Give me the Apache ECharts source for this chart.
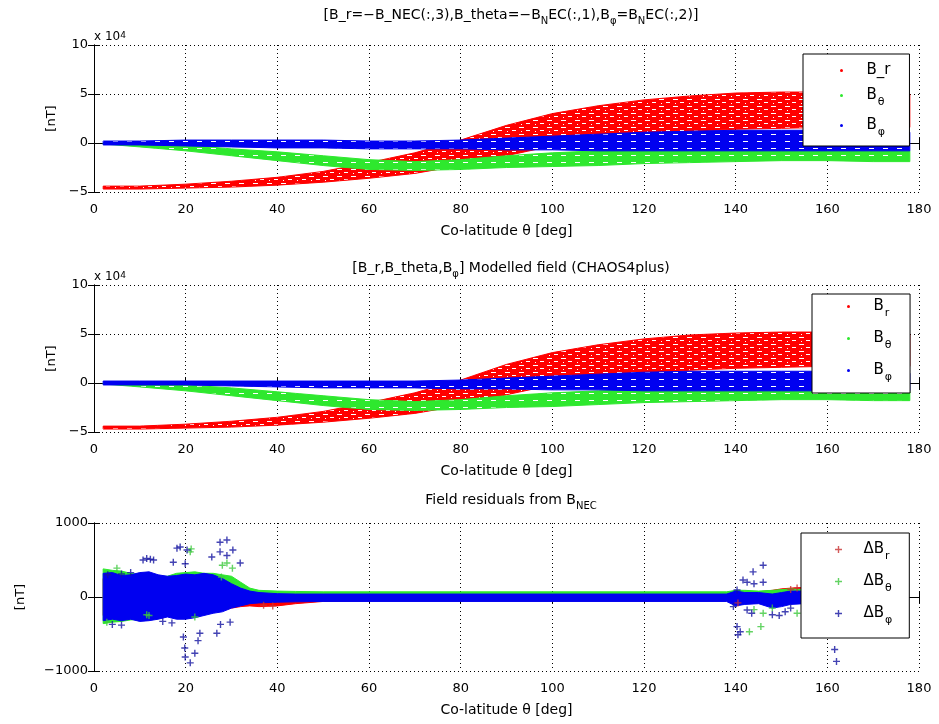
<!DOCTYPE html>
<html>
<head>
<meta charset="utf-8">
<script src="https://cdn.jsdelivr.net/npm/echarts@6/dist/echarts.min.js"></script>
<style>
html, body { margin: 0; padding: 0; background: #fff; }
#main { width: 939px; height: 724px; }
</style>
</head>
<body>
<div id="main"></div>
<script>
// co-latitude samples of the band edges (deg)
var theta = [2, 10, 20, 30, 40, 50, 60, 70, 80, 90, 100, 110, 120, 130, 140, 150, 160, 170, 178];

// panel 1: measured field, lower / upper edge of each band (nT)
var brLo1 = [-47000, -47000, -46000, -45000, -43000, -40000, -36000, -31000, -23000, -13000, -3000, 4000, 9000, 12000, 14000, 15000, 16000, 16000, 16000];
var brHi1 = [-44000, -44000, -42000, -39000, -35000, -29000, -20000, -10000, 3000, 18000, 30000, 38000, 44000, 48000, 51000, 52000, 52000, 51000, 50000];
var btLo1 = [-1000, -4000, -8000, -13000, -18000, -23000, -27000, -28000, -27000, -25000, -24000, -23000, -21000, -20000, -19000, -18000, -18000, -19000, -19000];
var btHi1 = [0, -1000, -2000, -6000, -9000, -13000, -17000, -19000, -17000, -13000, -10000, -8000, -7000, -6000, -6000, -6000, -7000, -8000, -8000];
var bpLo1 = [-2000, -2000, -3000, -4000, -5000, -5000, -6000, -6000, -6000, -7000, -7000, -8000, -8000, -8000, -8000, -8000, -8000, -8000, -8000];
var bpHi1 = [2000, 2000, 3000, 3000, 3000, 3000, 2000, 2000, 3000, 5000, 7000, 9000, 11000, 12000, 13000, 13000, 13000, 12000, 11000];

// panel 2: modelled field (CHAOS4plus)
var brLo2 = [-47000, -47000, -46000, -45000, -43000, -40000, -36000, -31000, -23000, -12000, -2000, 5000, 10000, 13000, 15000, 16000, 17000, 17000, 17000];
var brHi2 = [-44000, -44000, -42000, -39000, -35000, -29000, -20000, -10000, 3000, 19000, 31000, 39000, 45000, 49000, 51000, 52000, 52000, 51000, 50000];
var btLo2 = [-1000, -4000, -8000, -13000, -18000, -23000, -27000, -28000, -27000, -25000, -24000, -22000, -20000, -19000, -18000, -17000, -17000, -18000, -18000];
var btHi2 = [0, -1000, -2000, -5000, -9000, -13000, -17000, -19000, -17000, -13000, -10000, -8000, -7000, -6000, -6000, -6000, -7000, -8000, -8000];
var bpLo2 = [-2000, -2000, -2000, -3000, -4000, -5000, -5000, -5000, -6000, -6000, -7000, -7000, -8000, -8000, -8000, -8000, -8000, -8000, -8000];
var bpHi2 = [2000, 2000, 2000, 2000, 2000, 2000, 2000, 2000, 3000, 5000, 7000, 9000, 11000, 12000, 12000, 12000, 12000, 11000, 10000];

// panel 3: residuals, dense part as bands
var rTheta = [2, 4, 6, 8, 10, 12, 14, 16, 18, 20, 22, 24, 26, 28, 30, 32, 34, 36, 40, 44, 50, 60, 80, 100, 120, 138, 140, 142, 145, 148, 150, 152, 155, 158, 160, 163];
var dbrLo = [-250, -250, -250, -250, -250, -250, -250, -250, -250, -250, -250, -230, -200, -180, -150, -130, -120, -130, -120, -90, -60, -50, -50, -50, -50, -50, -100, -80, -60, -60, -60, -50, -40, -40, -40, -30];
var dbrHi = [250, 250, 250, 250, 250, 250, 250, 250, 250, 250, 250, 230, 200, 180, 150, 120, 60, 0, -10, 0, 20, 20, 20, 20, 20, 20, 60, 60, 70, 90, 110, 120, 130, 110, 100, 80];
var dbtLo = [-360, -340, -330, -310, -300, -290, -280, -260, -250, -250, -250, -230, -200, -150, -100, -60, -30, 0, 10, 15, 20, 20, 20, 20, 20, 20, -40, -50, -60, -70, -80, -70, -60, -50, -50, -40];
var dbtHi = [380, 360, 350, 320, 300, 300, 280, 280, 320, 330, 340, 320, 320, 300, 280, 200, 120, 90, 80, 75, 70, 70, 70, 70, 70, 70, 90, 90, 80, 90, 100, 110, 100, 90, 90, 80];
var dbpLo = [-320, -300, -320, -300, -330, -320, -300, -270, -300, -300, -280, -250, -220, -200, -150, -120, -90, -80, -70, -65, -60, -60, -60, -60, -60, -60, -120, -100, -90, -150, -130, -100, -90, -80, -80, -60];
var dbpHi = [320, 330, 290, 300, 330, 340, 300, 280, 290, 310, 300, 320, 300, 250, 180, 120, 80, 60, 45, 40, 40, 40, 40, 40, 40, 40, 80, 60, 60, 40, 60, 80, 80, 70, 60, 50];

// residual outliers [theta, nT]
var dbrOut = [[153.4, 120], [140.5, -80], [37, -110], [39, -120], [152, 100]];
var dbtOut = [[21, 610], [21.2, 650], [29, 460], [30.2, 390], [27.8, 270], [11.5, -240], [2.8, -340], [5, 390], [22, -270],
  [143, -470], [145.5, -400], [146, -220], [148, -150], [153.4, -220], [144, -170], [12, -250], [28, 430]];
var dbpOut = [[10.7, 500], [11.5, 520], [12.3, 510], [13, 500], [17.3, 470], [18.1, 660], [18.8, 675], [20.3, 635], [19.9, 450],
  [25.7, 540], [27.5, 740], [29, 770], [27.5, 610], [30.3, 635], [31.9, 460], [29, 560], [19.9, -810], [21, -890], [22, -760],
  [19.5, -540], [19.8, -690], [23.1, -490], [22.7, -590], [26.8, -490], [29.7, -340], [27.6, -370], [146, 430], [143.8, 340],
  [141.6, 230], [142.5, 200], [144, 180], [146, 200], [140.3, 95], [140.3, -400], [140.5, -510], [141, -470], [139.5, -130],
  [142.5, -175], [143.5, -220], [148, -240], [149.5, -250], [150.8, -200], [152, -150], [161.6, -710], [162, -870],
  [8, 330], [6, 310], [3, 300], [4, -370], [6, -380], [15, -330], [17, -350]];

var xTicks = [0, 20, 40, 60, 80, 100, 120, 140, 160, 180];

var FONT = 'DejaVu Sans';
var RED = '#ff0000', GREEN = '#2ee82e', BLUE = '#0000f0', NAVY = '#1414a0';
var PLUS = 'path://M4,0H6V4H10V6H6V10H4V6H0V4H4Z';

var grids = [
  { left: 94, right: 20, top: 45, height: 147 },
  { left: 94, right: 20, top: 285, height: 147 },
  { left: 94, right: 20, top: 523, height: 148 }
];

// streaky fill, like many point tracks lying side by side
function streaks(color, dense) {
  var c = document.createElement('canvas');
  c.width = 14; c.height = 7;
  var g = c.getContext('2d');
  g.fillStyle = color;
  g.fillRect(0, 0, 14, 7);
  g.fillStyle = '#fff';
  g.fillRect(1, 1, 5, 1);
  if (dense) {
    g.fillRect(8, 4, 4, 1);
    g.fillRect(3, 5, 1, 1);
  }
  return { image: c, repeat: 'repeat' };
}

function minus(s) { return String(s).replace('-', '\u2212'); }

function xAxesFor(i) {
  var base = {
    gridIndex: i, type: 'value', min: xTicks[0], max: xTicks[xTicks.length - 1], interval: 20,
    axisLine: { show: true, lineStyle: { color: '#000', width: 1 } },
    axisTick: { show: true, inside: true, length: 6, lineStyle: { color: '#000' } }
  };
  return [
    Object.assign({}, base, {
      position: 'bottom',
      axisLabel: { color: '#000', fontSize: 13, fontFamily: FONT, margin: 11 },
      splitLine: { show: true, lineStyle: { color: '#000', width: 1, type: [1, 3] } },
      name: 'Co-latitude θ [deg]', nameLocation: 'middle', nameGap: 32,
      nameTextStyle: { color: '#000', fontSize: 14, fontFamily: FONT }
    }),
    Object.assign({}, base, { position: 'top', axisLabel: { show: false }, splitLine: { show: false } })
  ];
}

function yAxesFor(i, min, max, step, fmt, gap) {
  var base = {
    gridIndex: i, type: 'value', min: min, max: max, interval: step,
    axisLine: { show: true, lineStyle: { color: '#000', width: 1 } },
    axisTick: { show: true, inside: true, length: 6, lineStyle: { color: '#000' } }
  };
  return [
    Object.assign({}, base, {
      position: 'left',
      axisLabel: { color: '#000', fontSize: 13, fontFamily: FONT, margin: 6, formatter: fmt },
      splitLine: { show: true, lineStyle: { color: '#000', width: 1, type: [1, 3] } },
      name: '[nT]', nameLocation: 'middle', nameGap: gap,
      nameTextStyle: { color: '#000', fontSize: 13, fontFamily: FONT }
    }),
    Object.assign({}, base, { position: 'right', axisLabel: { show: false }, splitLine: { show: false } })
  ];
}

// filled band between lo and hi: one polygon through the data, placed by the axes
function band(name, i, xs, lo, hi, color, fill) {
  return {
    name: name, type: 'custom', xAxisIndex: 2 * i, yAxisIndex: 2 * i, clip: true,
    itemStyle: { color: color },
    data: xs.map(function (t, k) { return [t, lo[k], hi[k]]; }),
    encode: { x: 0, y: [1, 2] },
    renderItem: function (params, api) {
      if (params.dataIndexInside !== 0) return null;
      var n = params.dataInsideLength, pts = [], k;
      for (k = 0; k < n; k++) pts.push(api.coord([api.value(0, k), api.value(2, k)]));
      for (k = n - 1; k >= 0; k--) pts.push(api.coord([api.value(0, k), api.value(1, k)]));
      return {
        type: 'polygon', shape: { points: pts },
        style: { fill: fill || color, stroke: color, lineWidth: 1 }
      };
    }
  };
}

function plus(name, pts, color) {
  return {
    name: name, type: 'scatter', xAxisIndex: 4, yAxisIndex: 4, symbol: PLUS, symbolSize: 7,
    itemStyle: { color: color }, data: pts, z: 3
  };
}

var labels = {
  Br1: '{m|B_r}', Bt1: '{m|B}{s|θ}', Bp1: '{m|B}{s|φ}',
  Br2: '{m|B}{s|r}', Bt2: '{m|B}{s|θ}', Bp2: '{m|B}{s|φ}',
  dBr: '{m|ΔB}{s|r}', dBt: '{m|ΔB}{s|θ}', dBp: '{m|ΔB}{s|φ}'
};
var legRich = {
  m: { fontSize: 15, fontFamily: FONT, color: '#000', lineHeight: 15, verticalAlign: 'top' },
  s: { fontSize: 11, fontFamily: FONT, color: '#000', lineHeight: 11, verticalAlign: 'top', padding: [9, 0, 0, 1] }
};
function legendFor(names, left, top, icon, size, gap, pad) {
  return {
    data: names.map(function (n) { return { name: n, icon: icon }; }),
    orient: 'vertical', left: left, top: top, itemWidth: 40, itemHeight: size, itemGap: gap,
    padding: pad, borderColor: '#000', borderWidth: 1, backgroundColor: '#fff',
    selectedMode: false, formatter: function (n) { return labels[n]; },
    textStyle: { rich: legRich }
  };
}

var titleRich = {
  m: { fontSize: 14, fontFamily: FONT, fontWeight: 'normal', color: '#000', lineHeight: 14, verticalAlign: 'top' },
  s: { fontSize: 10, fontFamily: FONT, fontWeight: 'normal', color: '#000', lineHeight: 10, verticalAlign: 'top', padding: [8, 0, 0, 0] }
};
function titleAt(text, top) {
  return { text: text, left: 506, top: top, textAlign: 'center', textStyle: { fontWeight: 'normal', rich: titleRich } };
}

var chart = echarts.init(document.getElementById('main'));

var series = [
  band('Br1', 0, theta, brLo1, brHi1, RED, streaks(RED, true)),
  band('Bt1', 0, theta, btLo1, btHi1, GREEN, streaks(GREEN, false)),
  band('Bp1', 0, theta, bpLo1, bpHi1, BLUE, streaks(BLUE, false)),
  band('Br2', 1, theta, brLo2, brHi2, RED, streaks(RED, true)),
  band('Bt2', 1, theta, btLo2, btHi2, GREEN, streaks(GREEN, false)),
  band('Bp2', 1, theta, bpLo2, bpHi2, BLUE, streaks(BLUE, false)),
  band('dBrBand', 2, rTheta, dbrLo, dbrHi, RED),
  band('dBtBand', 2, rTheta, dbtLo, dbtHi, GREEN),
  band('dBpBand', 2, rTheta, dbpLo, dbpHi, BLUE),
  plus('dBr', dbrOut, '#c83232'),
  plus('dBt', dbtOut, '#3cc83c'),
  plus('dBp', dbpOut, NAVY)
];

var option = {
  backgroundColor: '#fff',
  animation: false,
  title: [
    titleAt('{m|[B_r=\u2212B_NEC(:,3),B_theta=\u2212B}{s|N}{m|EC(:,1),B}{s|φ}{m|=B}{s|N}{m|EC(:,2)]}', 3),
    titleAt('{m|[B_r,B_theta,B}{s|φ}{m|] Modelled field (CHAOS4plus)}', 256),
    titleAt('{m|Field residuals from B}{s|NEC}', 488)
  ],
  grid: grids,
  xAxis: [].concat(xAxesFor(0), xAxesFor(1), xAxesFor(2)),
  yAxis: [].concat(
    yAxesFor(0, -50000, 100000, 50000, function (v) { return minus(v / 10000); }, 35),
    yAxesFor(1, -50000, 100000, 50000, function (v) { return minus(v / 10000); }, 35),
    yAxesFor(2, -1000, 1000, 1000, function (v) { return minus(v); }, 67)
  ),
  legend: [
    legendFor(['Br1', 'Bt1', 'Bp1'], 803, 54, 'circle', 3, 10, [9, 19, 8, 37]),
    legendFor(['Br2', 'Bt2', 'Bp2'], 812, 294, 'circle', 3, 12, [5, 18, 10, 35]),
    legendFor(['dBr', 'dBt', 'dBp'], 801, 533, PLUS, 7, 12, [9, 17, 12, 34])
  ],
  graphic: [
    { type: 'text', left: 94, top: 25, style: { text: '{m|x 10}{p|4}', rich: {
      m: { fontSize: 12, fontFamily: FONT, fill: '#000', lineHeight: 12, verticalAlign: 'bottom', padding: [6, 0, 0, 0] },
      p: { fontSize: 9, fontFamily: FONT, fill: '#000', lineHeight: 9, verticalAlign: 'top' } } } },
    { type: 'text', left: 94, top: 265, style: { text: '{m|x 10}{p|4}', rich: {
      m: { fontSize: 12, fontFamily: FONT, fill: '#000', lineHeight: 12, verticalAlign: 'bottom', padding: [6, 0, 0, 0] },
      p: { fontSize: 9, fontFamily: FONT, fill: '#000', lineHeight: 9, verticalAlign: 'top' } } } }
  ],
  series: series
};

chart.setOption(option);
</script>
</body>
</html>
